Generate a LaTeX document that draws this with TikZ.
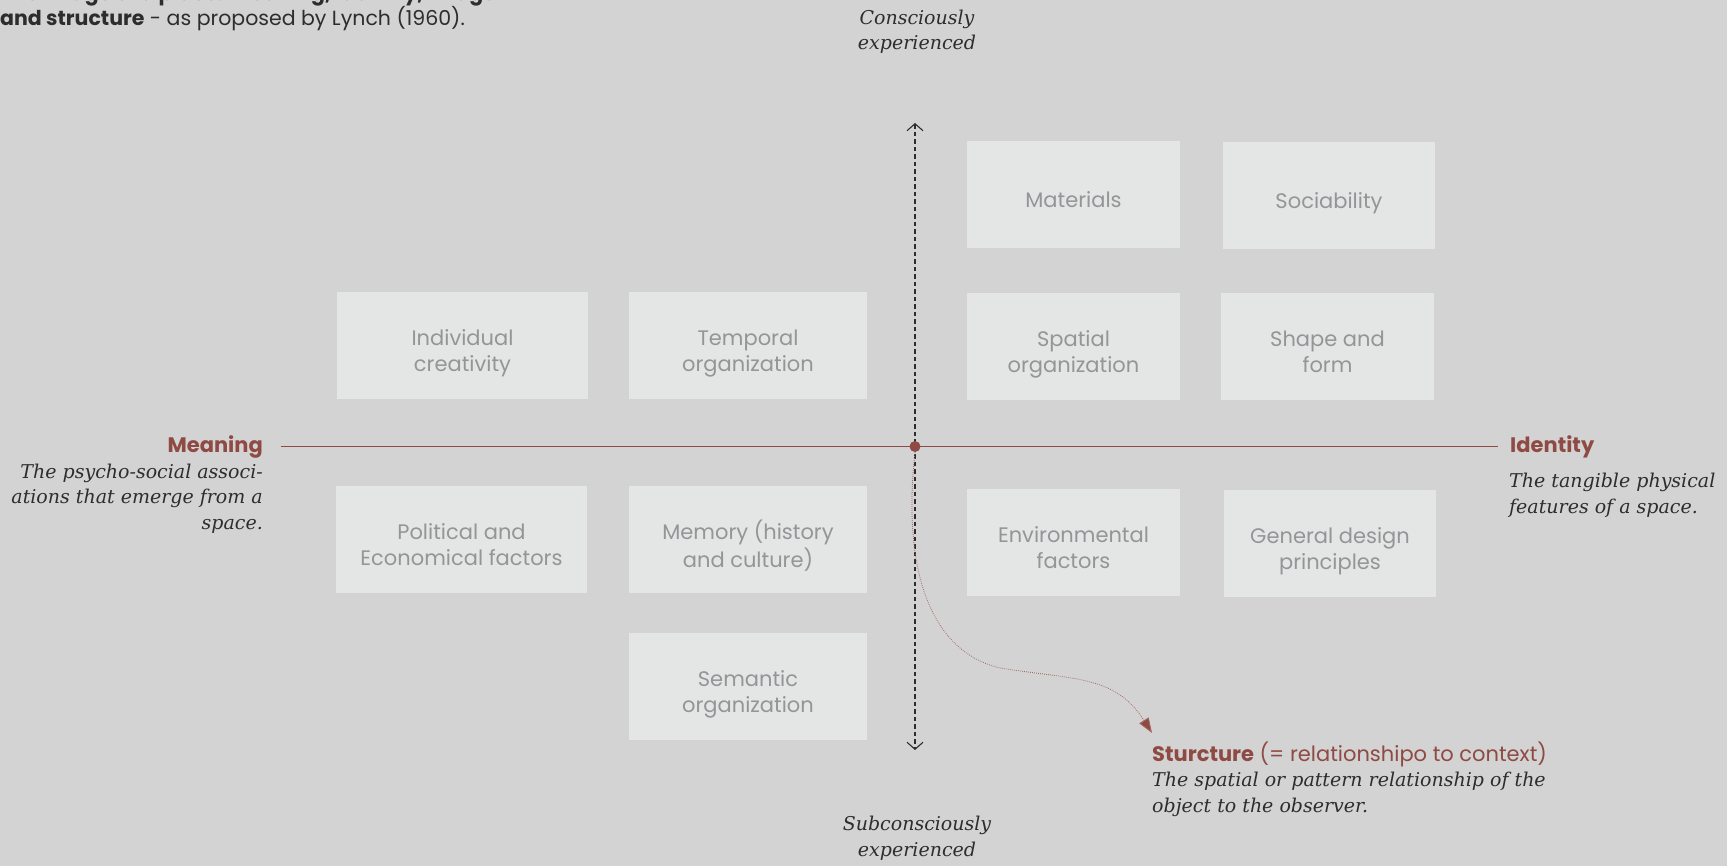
\documentclass[tikz,border=0pt]{standalone}
\usepackage{fontspec}
\setmainfont{Poppins}
\newfontfamily\itserif{DejaVu Serif}
\usetikzlibrary{arrows.meta}
\definecolor{bgc}{RGB}{211,211,211}
\definecolor{boxc}{RGB}{228,229,229}
\definecolor{boxt}{RGB}{148,149,151}
\definecolor{redc}{RGB}{142,74,67}
\definecolor{redl}{RGB}{165,105,100}
\definecolor{darkc}{RGB}{45,45,45}
\newcommand\factortext[1]{\raisebox{-8pt}[\height][\depth]{\begin{tabular}{@{}c@{}}#1\end{tabular}}}
\begin{document}
\begin{tikzpicture}[x=1pt,y=-1pt,
  factor/.style={rectangle, fill=boxc, inner sep=0pt, minimum height=107pt, text=boxt, font=\fontsize{21}{25.5}\selectfont},
  desc/.style={font=\itserif\itshape\fontsize{19}{25.5}\selectfont, text=darkc, inner sep=0pt},
  headlbl/.style={font=\bfseries\fontsize{21}{25.5}\selectfont, text=redc, inner sep=0pt},
  caption/.style={font=\fontsize{20.5}{25.5}\selectfont, text=darkc, inner sep=0pt},
  axisline/.style={draw=darkc, line width=1.1pt, dash pattern=on 4.5pt off 3pt}
]
\useasboundingbox (0,0) rectangle (1727,866);
\fill[bgc] (0,0) rectangle (1727,866);

% caption (top line cut off by the edge)
\node[caption, anchor=base west] (cap1) at (0,1) {\bfseries The image of a place: meaning, identity, image};
\node[caption, anchor=base west] (cap2) at (0,26) {\textbf{and structure} - as proposed by Lynch (1960).};

% factor boxes
\node[factor, minimum width=213pt] (materials) at (1073.5,194.5) {\factortext{Materials}};
\node[factor, minimum width=212pt] (sociability) at (1329,195.5) {\factortext{Sociability}};
\node[factor, minimum width=251pt] (creativity) at (462.5,345.5) {\factortext{Individual\\creativity}};
\node[factor, minimum width=238pt] (temporal) at (748,345.5) {\factortext{Temporal\\organization}};
\node[factor, minimum width=213pt] (spatial) at (1073.5,346.5) {\factortext{Spatial\\organization}};
\node[factor, minimum width=213pt] (shape) at (1327.5,346.5) {\factortext{Shape and\\form}};
\node[factor, minimum width=251pt] (political) at (461.5,539.5) {\factortext{Political and\\Economical factors}};
\node[factor, minimum width=238pt] (memory) at (748,539.5) {\factortext{Memory (history\\and culture)}};
\node[factor, minimum width=213pt] (environmental) at (1073.5,542.5) {\factortext{Environmental\\factors}};
\node[factor, minimum width=212pt] (general) at (1330,543.5) {\factortext{General design\\principles}};
\node[factor, minimum width=238pt] (semantic) at (748,686.5) {\factortext{Semantic\\organization}};

% vertical axis
\coordinate (axtop) at (915,123);
\coordinate (axbot) at (915,750);
\draw[axisline, {Straight Barb[length=7pt,width=16pt]}-{Straight Barb[length=7pt,width=16pt]}] (axtop) -- (axbot);
\node[desc, align=center, anchor=base] (conscious) at (917,50) {Consciously\\experienced};
\node[desc, align=center, anchor=base] (subconscious) at (917,856) {Subconsciously\\experienced};

% horizontal axis
\coordinate (hubpt) at (915,446.5);
\node[headlbl, anchor=base east] (meaning) at (263,453) {Meaning};
\node[headlbl, anchor=base west] (identity) at (1510,453) {Identity};
\draw[redc, line width=1.3pt, shorten <=18pt, shorten >=12pt] (meaning.east |- hubpt) -- (identity.west |- hubpt);
\node[circle, fill=redc, inner sep=0pt, minimum size=11pt] (hub) at (hubpt) {};

\node[desc, align=right, anchor=base east] (meaningdesc) at (263,529) {The psycho-social associ-\\ations that emerge from a\\space.};
\node[desc, align=left, anchor=base west] (identitydesc) at (1509,513) {The tangible physical\\features of a space.};

% structure
\node[anchor=base west, inner sep=0pt, text=redc, font=\fontsize{21}{25.5}\selectfont] (structure) at (1152,761) {\textbf{Sturcture} (= relationshipo to context)};
\node[desc, align=left, anchor=base west] (structuredesc) at (1152,812) {The spatial or pattern relationship of the\\object to the observer.};
\coordinate (strtip) at (1152,733);
\draw[redl, line width=0.8pt, dash pattern=on 0.8pt off 1.2pt, -{Triangle[length=15pt,width=11pt,fill=redc]}] (hub.south) .. controls (903,560) and (925,650) .. (1000,668) .. controls (1075,680) and (1115,675) .. (strtip);
\end{tikzpicture}
\end{document}
